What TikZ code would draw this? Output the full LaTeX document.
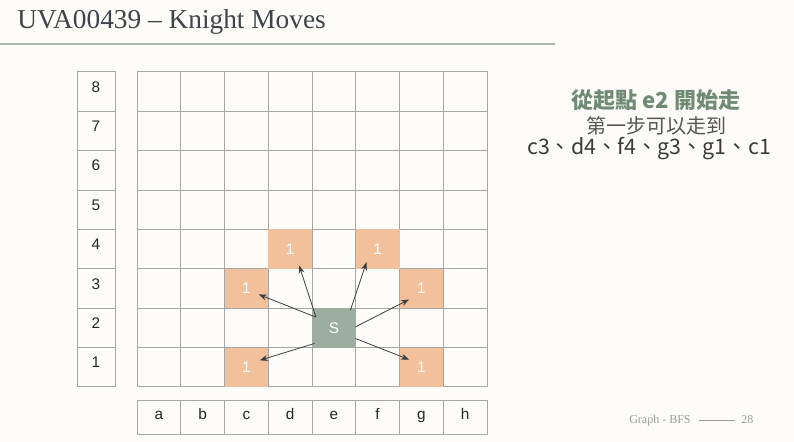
\documentclass[tikz,border=0pt]{standalone}
\usepackage{fontspec}
\setmainfont{Liberation Sans}
\newfontfamily\serif{Liberation Serif}
\newfontfamily\cjk{Noto Sans CJK TC}
\usetikzlibrary{positioning,arrows.meta}
\definecolor{bg}{HTML}{FDFCF8}
\definecolor{titlegray}{HTML}{3E444A}
\definecolor{rulegreen}{HTML}{A9B7AC}
\definecolor{gridgray}{HTML}{A6A6A6}
\definecolor{hitorange}{HTML}{F3C09C}
\definecolor{srcgreen}{HTML}{9DADA0}
\definecolor{arrowgray}{HTML}{3A3F44}
\definecolor{headgreen}{HTML}{6F8B74}
\definecolor{subgray}{HTML}{555555}
\definecolor{listgray}{HTML}{3A3A3A}
\definecolor{footgray}{HTML}{9C9C9C}

\begin{document}
\begin{tikzpicture}[x=0.75pt,y=-0.75pt,sq/.style={draw=gridgray,line width=0.75pt,minimum width=32.8125pt,minimum height=29.53125pt,inner sep=0pt,text=black!85,font=\fontsize{11.5}{12}\selectfont},lab/.style={sq,text height=8.3pt,text depth=7.5pt},hit/.style={fill=hitorange,minimum width=32.8125pt,minimum height=29.53125pt,inner sep=0pt,text=white,font=\fontsize{11.5}{12}\selectfont},src/.style={hit,fill=srcgreen},mv/.style={-{Stealth[length=6pt,width=4.5pt]},draw=arrowgray,line width=0.6pt}]
\fill[bg](0,0)rectangle(794,442);
\useasboundingbox(0,0)rectangle(794,442);
% title
\node[anchor=base west,inner sep=0pt,text=titlegray,font=\serif\fontsize{20.5}{24}\selectfont](title)at(17,29){UVA00439 – Knight Moves};
\draw[rulegreen,line width=1.5pt](0,44)--(555,44);
% board and labels
\foreach \c [count=\i] in {a,...,h}{
\foreach \r in {1,...,8}\node[sq](sq-\c\r)at({137+43.75*(\i-0.5)},{72+39.375*(8.5-\r)}){};
\node[sq,minimum height=25.5pt,text height=8pt,text depth=5.5pt](col-\c)at({137+43.75*(\i-0.5)},418){\c};}
\foreach \r in {1,...,8}\node[lab,minimum width=28.5pt](row-\r)at(96,{72+39.375*(8.5-\r)}){\r};
% first step
\foreach \s in {c3,d4,f4,g3,g1,c1}\node[hit](\s)at(sq-\s){1};
\node[src](S)at(sq-e2){S};
\foreach \t/\sx/\sy/\ex/\ey in {c3/-18.5/-11/12.4/5.9,d4/-18/-11/9/16.3,f4/16.5/-17.8/-11.1/13,g3/21.5/-1/-12.3/10.9,g1/21.5/10.5/-12.3/-7.7,c1/-19.3/15.5/13.4/-7}\draw[mv]([shift={(\sx,\sy)}]S.center)--([shift={(\ex,\ey)}]\t.center);
% note
\node[text=headgreen,font=\cjk\bfseries\fontsize{16.5}{18}\selectfont](head)at(656,100){從起點 e2 開始走};
\node[text=subgray,font=\cjk\fontsize{15}{18}\selectfont](sub)at(656,126){第一步可以走到};
\node[text=listgray,font=\cjk\fontsize{16}{18}\selectfont](list)at(649,149){c3、d4、f4、g3、g1、c1};
% footer
\node[anchor=base west,inner sep=0pt,text=footgray,font=\serif\fontsize{9}{10}\selectfont](foot)at(629,424){Graph - BFS};
\node[anchor=base west,inner sep=0pt,text=footgray,font=\serif\fontsize{9}{10}\selectfont](page)at(741,424){28};
\draw[footgray,line width=0.6pt](699,420)--(735,420);
\end{tikzpicture}
\end{document}
